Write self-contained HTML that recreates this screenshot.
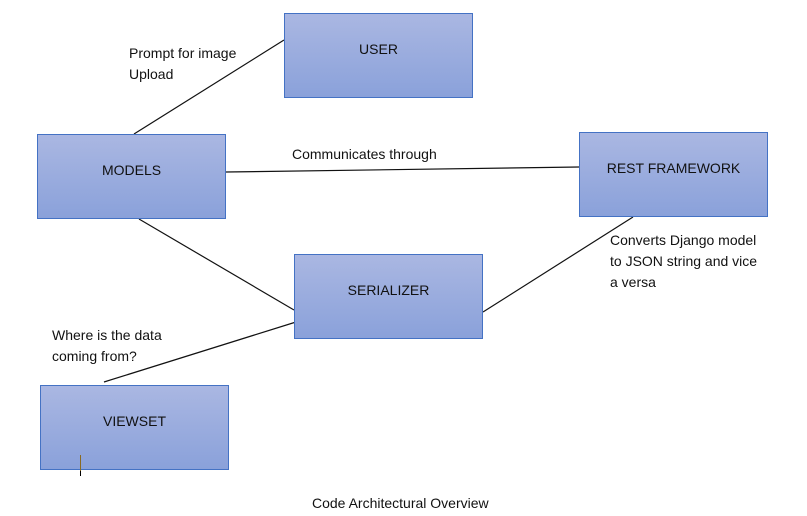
<!DOCTYPE html>
<html><head><style>
body{margin:0;width:807px;height:516px;background:#fff;position:relative;font-family:"Liberation Sans",Calibri,sans-serif;overflow:hidden}
.b{position:absolute;box-sizing:border-box;width:189px;height:85px;padding-bottom:13px;border:1px solid #4472c4;background:linear-gradient(#aab7e2,#8aa1da);display:flex;align-items:center;justify-content:center;font-size:14px;color:#111}
.t{position:absolute;font-size:14px;color:#111;line-height:21px}
svg{position:absolute;left:0;top:0}
</style></head><body>
<svg width="807" height="516">
<g stroke="#111" stroke-width="1.2">
<line x1="134" y1="134" x2="284" y2="40"/>
<line x1="226" y1="172" x2="579" y2="167"/>
<line x1="139" y1="219" x2="294" y2="310"/>
<line x1="483" y1="312" x2="633" y2="217"/>
<line x1="104" y1="382" x2="296" y2="322"/>
</g>
</svg>
<div class="b" style="left:284px;top:13px">USER</div>
<div class="b" style="left:37px;top:134px">MODELS</div>
<div class="b" style="left:579px;top:132px">REST FRAMEWORK</div>
<div class="b" style="left:294px;top:254px">SERIALIZER</div>
<div class="b" style="left:40px;top:385px">VIEWSET</div>
<svg width="807" height="516"><line x1="80.5" y1="455" x2="80.5" y2="476" stroke="#8a6a20" stroke-width="1"/><line x1="80.5" y1="471" x2="80.5" y2="476" stroke="#000" stroke-width="1"/></svg>
<div class="t" style="left:129px;top:43px">Prompt for image<br>Upload</div>
<div class="t" style="left:292px;top:144px">Communicates through</div>
<div class="t" style="left:610px;top:230px">Converts Django model<br>to JSON string and vice<br>a versa</div>
<div class="t" style="left:52px;top:325px">Where is the data<br>coming from?</div>
<div class="t" style="left:312px;top:493px">Code Architectural Overview</div>
</body></html>
